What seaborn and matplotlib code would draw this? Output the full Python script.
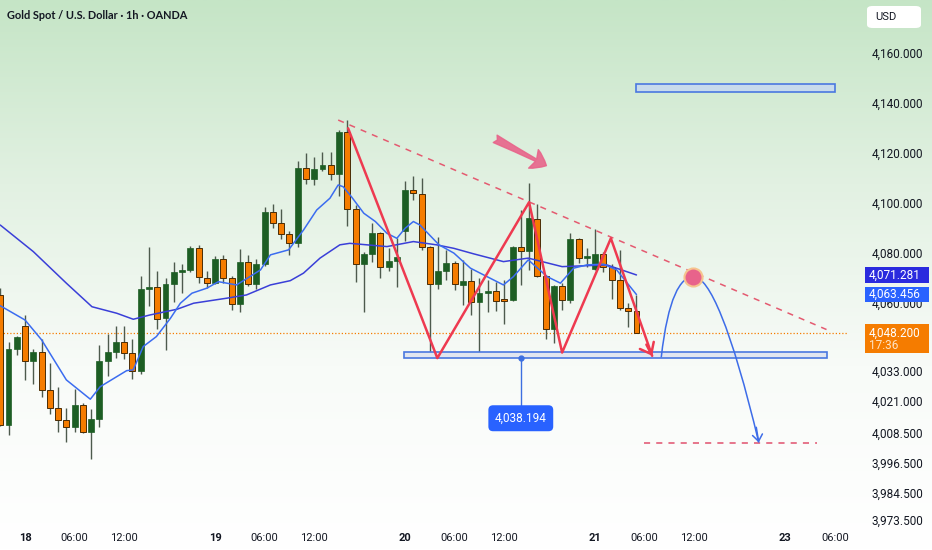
import numpy as np
import pandas as pd
import matplotlib
matplotlib.use("Agg")
import matplotlib.pyplot as plt
import seaborn as sns
from matplotlib.colors import LinearSegmentedColormap
from matplotlib.patches import Rectangle, PathPatch, FancyArrowPatch, FancyBboxPatch
from matplotlib.path import Path
from matplotlib.transforms import blended_transform_factory

# ---- candles (1h bars, bar 0 = 18th 00:00, 23 bars per session) ----
bars = list(range(-3, 75))
opens = [4063.3, 4011.4, 4041.8, 4051.1, 4037.1, 4040.6, 4025.3, 4018.0, 4013.3, 4010.5,
         4019.2, 4008.8, 4013.8, 4037.0, 4040.7, 4044.7, 4040.0, 4033.1, 4065.8, 4066.4,
         4054.0, 4067.6, 4072.4, 4073.3, 4082.2, 4070.2, 4068.0, 4077.7, 4070.0, 4059.7,
         4076.3, 4067.7, 4075.8, 4096.3, 4091.9, 4087.7, 4083.9, 4113.9, 4109.6, 4113.6,
         4115.2, 4111.5, 4128.5, 4097.5, 4075.6, 4079.5, 4088.1, 4074.3, 4077.0, 4088.8,
         4105.2, 4103.5, 4082.3, 4067.7, 4073.0, 4075.9, 4067.3, 4069.0, 4060.6, 4064.0,
         4064.9, 4061.6, 4061.3, 4082.3, 4081.0, 4093.6, 4070.9, 4049.6, 4066.9, 4061.3,
         4085.5, 4078.2, 4073.7, 4079.5, 4074.6, 4069.3, 4058.0, 4056.9]
highs = [4066.0, 4044.7, 4047.0, 4055.3, 4041.6, 4045.9, 4036.0, 4026.7, 4018.1, 4025.7,
         4020.1, 4017.8, 4043.4, 4047.7, 4050.9, 4051.1, 4045.9, 4071.0, 4082.6, 4073.0,
         4070.0, 4076.3, 4075.5, 4083.0, 4083.3, 4073.0, 4078.9, 4079.3, 4071.0, 4081.5,
         4079.3, 4077.7, 4098.3, 4099.5, 4097.6, 4089.0, 4116.9, 4119.8, 4118.2, 4120.5,
         4120.5, 4129.1, 4133.1, 4099.2, 4080.5, 4091.9, 4088.6, 4081.9, 4085.9, 4108.9,
         4110.8, 4109.9, 4082.8, 4086.3, 4081.3, 4077.0, 4077.3, 4073.6, 4070.0, 4069.3,
         4068.6, 4069.3, 4083.0, 4097.2, 4108.1, 4099.5, 4071.3, 4067.3, 4068.2, 4088.2,
         4085.9, 4081.9, 4089.5, 4080.6, 4075.7, 4081.3, 4060.2, 4063.3]
lows = [4011.0, 4007.4, 4039.4, 4029.4, 4027.8, 4022.7, 4015.8, 4008.5, 4004.8, 4008.5,
        4008.1, 3997.7, 4010.8, 4031.0, 4038.0, 4037.6, 4029.9, 4031.8, 4058.7, 4049.7,
        4041.4, 4060.3, 4064.0, 4072.6, 4068.2, 4066.0, 4067.5, 4068.2, 4057.1, 4056.3,
        4066.9, 4065.6, 4075.0, 4089.9, 4085.6, 4079.3, 4082.3, 4107.6, 4107.2, 4112.9,
        4109.2, 4102.8, 4090.8, 4068.6, 4056.3, 4076.6, 4070.0, 4073.0, 4066.6, 4085.0,
        4101.2, 4081.3, 4039.4, 4065.6, 4069.3, 4065.3, 4059.3, 4055.3, 4039.4, 4056.3,
        4056.7, 4051.7, 4061.0, 4067.3, 4073.3, 4070.5, 4045.6, 4044.3, 4057.3, 4060.0,
        4075.9, 4074.6, 4073.3, 4072.6, 4061.6, 4057.3, 4050.4, 4048.2]
closes = [4011.4, 4041.6, 4046.4, 4037.1, 4040.6, 4025.4, 4018.1, 4013.3, 4010.5, 4019.2,
          4008.8, 4013.8, 4037.1, 4040.7, 4044.4, 4040.3, 4033.1, 4065.8, 4066.5, 4053.7,
          4067.6, 4072.4, 4073.3, 4082.2, 4070.4, 4068.0, 4077.7, 4070.0, 4059.7, 4076.3,
          4067.7, 4075.8, 4096.3, 4091.9, 4087.7, 4083.9, 4113.9, 4109.6, 4113.6, 4115.2,
          4111.5, 4128.5, 4097.5, 4075.6, 4079.5, 4088.1, 4074.3, 4077.0, 4078.6, 4105.2,
          4103.9, 4082.3, 4067.7, 4073.0, 4075.9, 4067.7, 4069.0, 4060.6, 4064.0, 4064.9,
          4060.7, 4060.7, 4082.6, 4081.0, 4093.9, 4070.9, 4049.6, 4066.9, 4061.3, 4085.5,
          4078.2, 4078.9, 4079.5, 4074.6, 4069.3, 4058.0, 4056.9, 4048.2]

# ---- moving averages ----
slow_bar = [-3.0, 1.0, 5.0, 8.1, 11.1, 13.1, 15.1, 18.4, 20.4, 24.4, 26.8, 29.7, 32.1, 33.7,
            35.7, 38.1, 39.3, 43.8, 47.0, 49.8, 51.9, 54.3, 57.9, 60.9, 65.0, 70.4, 74.0]
slow_ma = [4091.2, 4080.6, 4068.0, 4058.6, 4056.0, 4053.6, 4055.3, 4057.6, 4060.0, 4062.0,
           4063.3, 4067.3, 4069.0, 4072.0, 4078.0, 4083.3, 4083.9, 4082.6, 4084.6, 4083.3,
           4081.9, 4079.7, 4076.6, 4078.0, 4074.6, 4075.3, 4071.281]
fast_bar = [-3.0, 0.0, 2.0, 5.0, 7.9, 9.1, 12.3, 13.1, 14.3, 15.9, 17.6, 18.8, 20.2, 22.0,
            23.4, 25.6, 28.5, 29.7, 31.9, 33.7, 35.3, 36.9, 37.9, 38.5, 39.5, 41.0, 42.4,
            43.8, 45.0, 46.0, 47.0, 47.8, 50.1, 51.9, 53.9, 55.5, 57.9, 59.1, 60.9, 63.2,
            64.8, 66.4, 68.0, 70.0, 71.6, 74.0]
fast_ma = [4059.0, 4053.3, 4045.4, 4029.4, 4021.7, 4026.7, 4033.1, 4033.4, 4042.7, 4046.7,
           4054.0, 4060.0, 4064.0, 4066.0, 4068.6, 4067.3, 4073.3, 4079.3, 4081.3, 4089.2,
           4097.2, 4101.9, 4107.2, 4106.5, 4102.5, 4095.9, 4092.6, 4087.9, 4085.9, 4089.9,
           4092.6, 4091.2, 4083.3, 4080.0, 4074.0, 4071.3, 4067.3, 4070.6, 4077.3, 4070.6,
           4068.0, 4074.0, 4075.3, 4075.6, 4073.3, 4063.456]

last_price = 4048.2
last_time = "17:36"

# ---- drawings (bar, price) ----
zigzag_bar = [39.1, 49.9, 61.0, 65.0, 70.9, 75.9]
zigzag_px = [4129.8, 4038.1, 4100.3, 4040.3, 4085.9, 4039.0]
trend_bar = [37.9, 97.0]
trend_px = [4133.1, 4049.5]
support_zone = (45.9, 97.0, 4038.194, 4040.6)
upper_zone = (74.0, 98.0, 4144.3, 4147.5)
note_price = 4038.194
note_bar = 60.0
note_label_px = 4014.1
path_bar = [77.0, 77.8, 79.3, 80.9, 82.8, 85.5, 88.8]
path_px = [4038.4, 4062.0, 4070.6, 4070.6, 4070.6, 4050.0, 4004.4]
retest = (80.9, 4070.6)
target_bar = [74.9, 95.8]
target_px = 4004.4
pink_arrow = ((56.9, 4125.6), (63.1, 4114.9))

# ---- axis ----
tick_bars = [0, 6, 12, 23, 29, 35, 46, 52, 58, 69, 75, 81, 92, 98]
tick_labels = ["18", "06:00", "12:00", "19", "06:00", "12:00", "20", "06:00", "12:00",
               "21", "06:00", "12:00", "23", "06:00"]
price_ticks = [4160, 4140, 4120, 4100, 4080, 4060, 4033, 4021, 4008.5, 3996.5, 3984.5, 3973.5]

green = "#1d5e24"
orange = "#f57c00"
wick = "#4d5a4d"
red = "#ee3a50"
blue_line = "#3d6ce8"

sns.set_theme(style="white")
plt.rcParams["font.family"] = ["Roboto", "DejaVu Sans"]

W, H = 932, 550
fig = plt.figure(figsize=(W / 100, H / 100), dpi=100)

# background gradient
bg = fig.add_axes([0, 0, 1, 1], zorder=-10)
cmap = LinearSegmentedColormap.from_list("bg", ["#c5e5c6", "#e2f1e2", "#f8fbf8", "#ffffff"])
bg.imshow(np.linspace(0, 1, 256).reshape(-1, 1), aspect="auto", cmap=cmap,
          extent=[0, 1, 0, 1], origin="upper")
bg.axis("off")

ax = fig.add_axes([0, 24 / H, 848 / W, 526 / H])
ax.set_facecolor("none")

df = pd.DataFrame({"bar": bars, "open": opens, "high": highs, "low": lows, "close": closes})
up = df["close"] >= df["open"]
ax.vlines(df["bar"], df["low"], df["high"], color=wick, lw=1, zorder=2)
ax.bar(df["bar"][up], np.maximum((df["close"] - df["open"])[up], 0.5), bottom=df["open"][up],
       width=0.72, color=green, edgecolor=green, lw=0.5, zorder=3)
ax.bar(df["bar"][~up], np.maximum((df["open"] - df["close"])[~up], 0.5), bottom=df["close"][~up],
       width=0.72, color=orange, edgecolor="#4a2c05", lw=0.7, zorder=3)

sns.lineplot(x=slow_bar, y=slow_ma, ax=ax, color="#3a3fd8", lw=1.1, zorder=4)
sns.lineplot(x=fast_bar, y=fast_ma, ax=ax, color="#3b6cf0", lw=1.1, zorder=4)

ax.axhline(last_price, color=orange, ls=(0, (1, 1.6)), lw=0.9, zorder=1)

# zones
x0, x1, y0, y1 = support_zone
ax.add_patch(Rectangle((x0, y0), x1 - x0, y1 - y0, fc="#e1e6f0", ec="#4a78e0", lw=1.2, zorder=5))
x0, x1, y0, y1 = upper_zone
ax.add_patch(Rectangle((x0, y0), x1 - x0, y1 - y0, fc="#c8dbec", ec="#4a78e0", lw=1.2, zorder=5))

# trend line and pattern
ax.plot(trend_bar, trend_px, color="#e45a70", ls=(0, (4, 4)), lw=1.1, zorder=5)
ax.plot(zigzag_bar, zigzag_px, color=red, lw=1.8, zorder=6)
ax.annotate("", xy=(zigzag_bar[-1], zigzag_px[-1]), xytext=(75.2, 4043.5),
            arrowprops=dict(arrowstyle="->,head_length=0.5,head_width=0.4", color=red, lw=1.8,
                            shrinkA=0, shrinkB=0, mutation_scale=14), zorder=6)

# projected path
codes = [Path.MOVETO] + [Path.CURVE4] * 6
ax.add_patch(PathPatch(Path(list(zip(path_bar, path_px)), codes), fc="none",
                       ec=blue_line, lw=1.1, zorder=6))
ax.annotate("", xy=(path_bar[-1], path_px[-1]), xytext=(88.5, 4010.5),
            arrowprops=dict(arrowstyle="->,head_length=0.4,head_width=0.3", color=blue_line,
                            lw=1.1, shrinkA=0, shrinkB=0, mutation_scale=12), zorder=6)
ax.plot(target_bar, [target_px, target_px], color="#e0506e", ls=(0, (4, 4)), lw=1.1, zorder=5)
ax.plot(*retest, "o", ms=13, mfc="#e8638b", mec="#f6c48e", mew=1.5, zorder=9)

ax.add_patch(FancyArrowPatch(pink_arrow[0], pink_arrow[1],
                             arrowstyle="fancy,head_length=0.7,head_width=1.0,tail_width=0.4",
                             mutation_scale=15, fc="#e8648a", ec="#e8648a", alpha=0.9,
                             shrinkA=0, shrinkB=0, zorder=7))

# price note
ax.plot([note_bar, note_bar], [note_price, note_label_px], color="#3d6fe0", lw=1, zorder=7)
ax.plot(note_bar, note_price, "o", ms=3.5, color="#3d6fe0", zorder=7)
ax.text(note_bar, note_label_px, f"{note_price:,.3f}", ha="center", va="center", color="white",
        fontsize=8.5, zorder=8,
        bbox=dict(boxstyle="round,pad=0.55,rounding_size=0.4", fc="#2962ff", ec="none"))

ax.set_xlim(-3.03, 99.6)
ax.set_ylim(3971.1, 4181.0)
for s in ax.spines.values():
    s.set_visible(False)
ax.set_xlabel("")
ax.set_ylabel("")

ax.set_xticks(tick_bars)
ax.set_xticklabels(tick_labels)
ax.tick_params(axis="x", length=0, pad=5, labelsize=8, colors="#131722")
for lab in ax.get_xticklabels():
    if ":" not in lab.get_text():
        lab.set_fontweight("bold")

ax.yaxis.tick_right()
ax.set_yticks(price_ticks)
ax.set_yticklabels([f"{v:,.3f}" for v in price_ticks])
ax.tick_params(axis="y", length=0, pad=17, labelsize=8.5, colors="#131722")

# right-hand price tags
tr = blended_transform_factory(fig.transFigure, ax.transData)
ppx = 526 / (4181.0 - 3971.1)
tags = [(slow_ma[-1], "#2a2ade"), (fast_ma[-1], "#2962ff")]
for val, col in tags:
    h = 15.5 / ppx
    ax.add_patch(Rectangle((865 / W, val - h / 2), 64 / W, h, transform=tr, fc=col, ec="none",
                           clip_on=False, zorder=20))
    ax.text(869 / W, val, f"{val:,.3f}", transform=tr, color="white", fontsize=8.5,
            va="center", ha="left", clip_on=False, zorder=21)
ax.add_patch(Rectangle((865 / W, last_price - 20.5 / ppx), 64 / W, 29 / ppx, transform=tr,
                       fc="#f57c00", ec="none", clip_on=False, zorder=20))
ax.text(869 / W, last_price, f"{last_price:,.3f}", transform=tr, color="white", fontsize=8.5,
        va="center", ha="left", zorder=21)
ax.text(869 / W, last_price - 13 / ppx, last_time, transform=tr, color="#ffe3c4", fontsize=8.5,
        va="center", ha="left", zorder=21)

fig.add_artist(FancyBboxPatch((867 / W, 1 - 28 / H), 54 / W, 22 / H, transform=fig.transFigure,
                              boxstyle="round,pad=0,rounding_size=0.006", fc="white", ec="none"))
fig.text(875 / W, 1 - 16.5 / H, "USD", fontsize=8, color="#131722", va="center", ha="left")

fig.text(7 / W, 1 - 15.5 / H, "Gold Spot / U.S. Dollar \u00b7 1h \u00b7 OANDA", fontsize=7.9,
         fontweight="bold", family=["Lato", "DejaVu Sans"], color="#131722", va="center")

fig.savefig("out.png", dpi=100)
